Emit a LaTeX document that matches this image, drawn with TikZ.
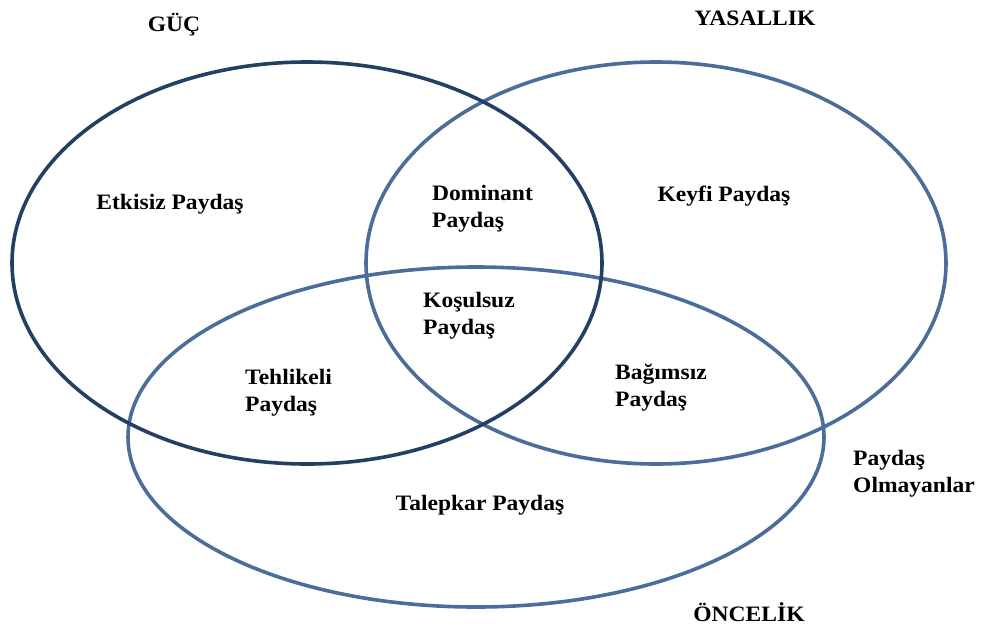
\documentclass[tikz,border=0pt]{standalone}
\usepackage{fontspec}
\setmainfont{Liberation Serif}
\newfontfamily\labelfont[FakeStretch=1.07]{Liberation Serif}
\definecolor{navy}{HTML}{233F63}
\definecolor{steel}{HTML}{4A6D99}
\begin{document}
\begin{tikzpicture}[x=1pt,y=-1pt,
  ring/.style={line width=3.6pt},
  lbl/.style={font=\labelfont\fontsize{22}{27}\selectfont\bfseries, inner sep=0pt},
  lblL/.style={lbl, align=left, anchor=west},
  lblC/.style={lbl, anchor=center}]
\useasboundingbox (0,0) rectangle (988,630);
% the three sets
\draw[ring, steel] (476,437) ellipse [x radius=348, y radius=170];
\draw[ring, steel] (656,263) ellipse [x radius=290, y radius=201];
\draw[ring, navy]  (307,263) ellipse [x radius=295, y radius=201];
% set titles
\node[lblC] (guc) at (174,25) {GÜÇ};
\node[lblC] (yas) at (755,18) {YASALLIK};
\node[lblC] (onc) at (749,612) {ÖNCELİK};
% regions
\node[lblC] (etk) at (170,204) {Etkisiz Paydaş};
\node[lblC] (key) at (724,196) {Keyfi Paydaş};
\node[lblL] (dom) at (432,209) {Dominant\\Paydaş};
\node[lblL] (kos) at (423,316) {Koşulsuz\\Paydaş};
\node[lblL] (teh) at (245,393) {Tehlikeli\\Paydaş};
\node[lblL] (bag) at (615,388) {Bağımsız\\Paydaş};
\node[lblC] (tal) at (480,505) {Talepkar Paydaş};
\node[lblL] (olm) at (853,474) {Paydaş\\Olmayanlar};
\end{tikzpicture}
\end{document}
